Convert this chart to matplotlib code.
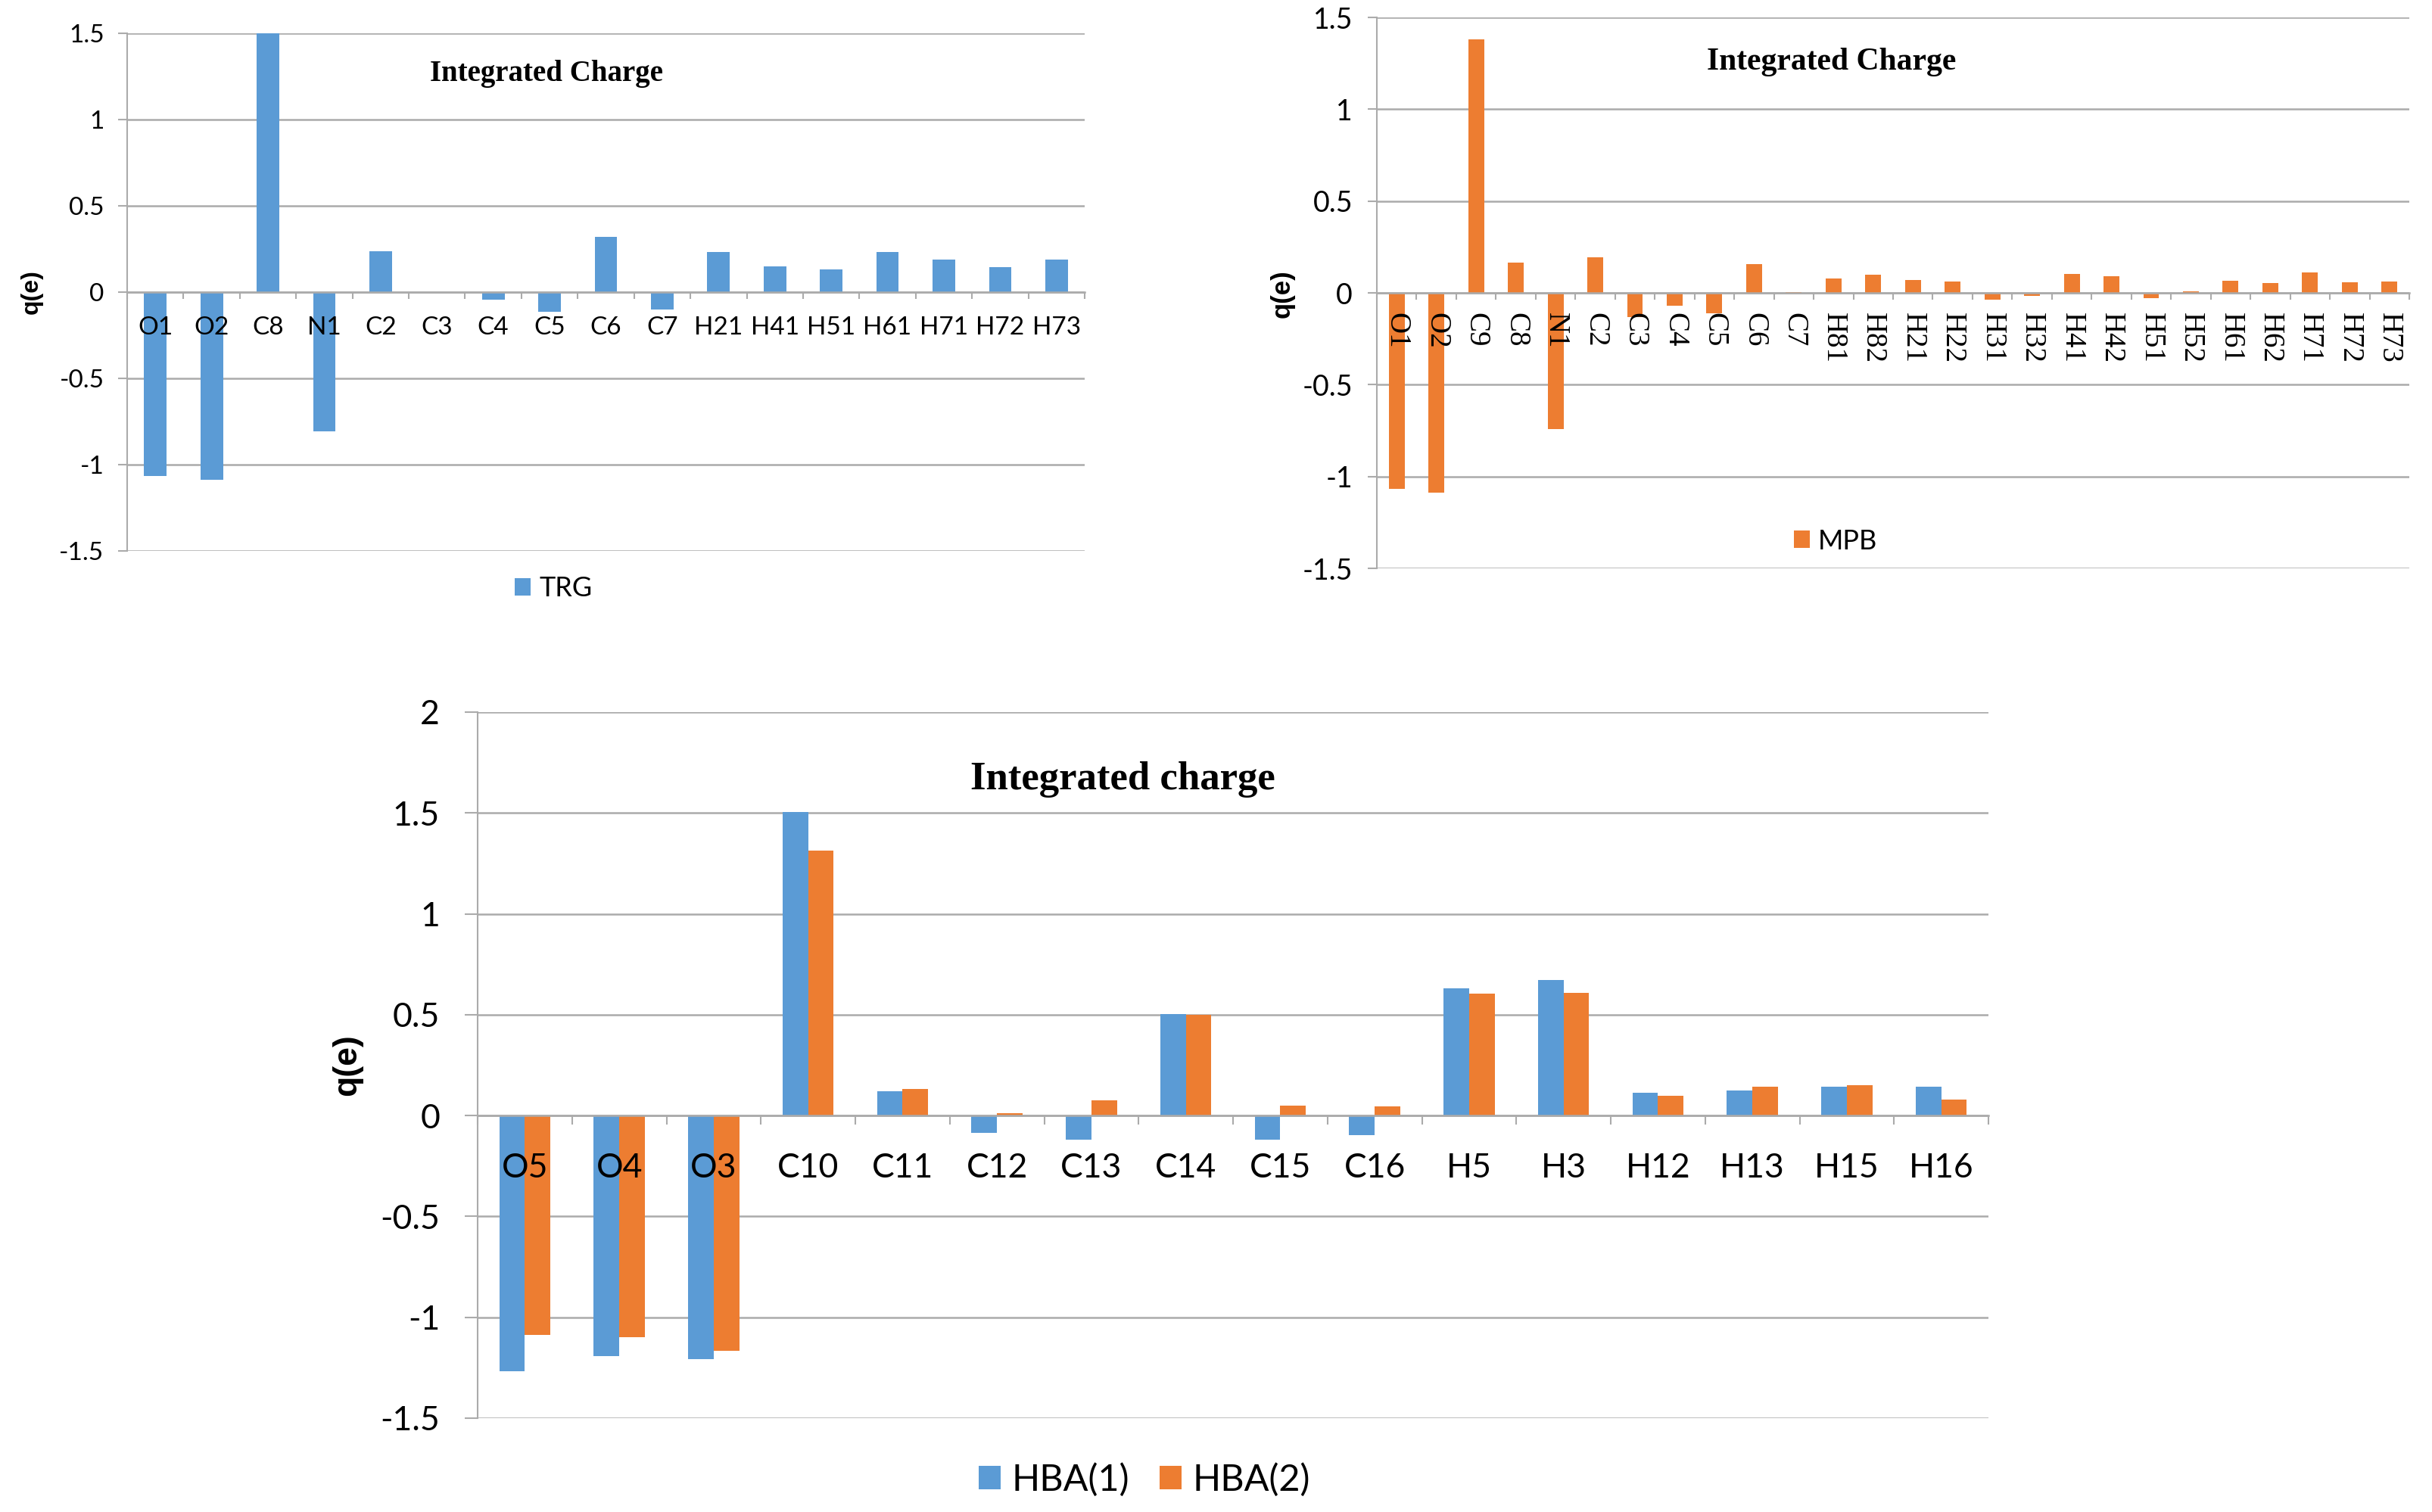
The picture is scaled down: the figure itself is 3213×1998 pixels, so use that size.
import matplotlib
matplotlib.use('Agg')
import matplotlib.pyplot as plt
import numpy as np

# ---- data ----
trg_atoms = ['O1', 'O2', 'C8', 'N1', 'C2', 'C3', 'C4', 'C5', 'C6', 'C7',
             'H21', 'H41', 'H51', 'H61', 'H71', 'H72', 'H73']
trg_q = [-1.065, -1.088, 1.50, -0.806, 0.235, -0.005, -0.046, -0.114, 0.32, -0.103,
         0.233, 0.15, 0.13, 0.233, 0.19, 0.146, 0.19]

mpb_atoms = ['O1', 'O2', 'C9', 'C8', 'N1', 'C2', 'C3', 'C4', 'C5', 'C6', 'C7',
             'H81', 'H82', 'H21', 'H22', 'H31', 'H32', 'H41', 'H42', 'H51', 'H52',
             'H61', 'H62', 'H71', 'H72', 'H73']
mpb_q = [-1.069, -1.087, 1.381, 0.165, -0.74, 0.195, -0.13, -0.07, -0.113, 0.158, 0.005,
         0.078, 0.10, 0.07, 0.06, -0.037, -0.017, 0.104, 0.089, -0.028, 0.01,
         0.065, 0.054, 0.113, 0.056, 0.06]

hba_atoms = ['O5', 'O4', 'O3', 'C10', 'C11', 'C12', 'C13', 'C14', 'C15', 'C16',
             'H5', 'H3', 'H12', 'H13', 'H15', 'H16']
hba1_q = [-1.267, -1.193, -1.206, 1.503, 0.122, -0.085, -0.12, 0.505, -0.12, -0.098,
          0.632, 0.672, 0.114, 0.125, 0.143, 0.143]
hba2_q = [-1.089, -1.10, -1.166, 1.315, 0.13, 0.013, 0.077, 0.50, 0.05, 0.045,
          0.603, 0.608, 0.098, 0.143, 0.149, 0.08]

ticks_small = [-1.5, -1, -0.5, 0, 0.5, 1, 1.5]
ticks_big = [-1.5, -1, -0.5, 0, 0.5, 1, 1.5, 2]

BLUE = '#5B9BD5'
ORANGE = '#ED7D31'
GRID = '#ABABAB'
SANS = 'Lato'
SERIF = 'Liberation Serif'

W, H = 3213, 1998
fig = plt.figure(figsize=(W / 100, H / 100), dpi=100)


def frac(left, top, right, bottom):
    return [left / W, 1 - bottom / H, (right - left) / W, (bottom - top) / H]


def style(ax, n, yticks, ysize, ticklen, ypad, xpad):
    ax.set_xlim(-0.5, n - 0.5)
    ax.set_ylim(yticks[0], yticks[-1])
    for y in yticks:
        ax.axhline(y, color=GRID, lw=1.8, zorder=0)
    ax.set_yticks(yticks)
    ax.set_yticklabels([f'{v:g}' for v in yticks], fontsize=ysize, family=SANS)
    ax.tick_params(axis='y', length=ticklen, width=1.5, color=GRID, pad=ypad)
    for s in ['top', 'right']:
        ax.spines[s].set_visible(False)
    ax.spines['left'].set_color(GRID)
    ax.spines['left'].set_linewidth(1.5)
    ax.spines['bottom'].set_position(('data', 0))
    ax.spines['bottom'].set_color(GRID)
    ax.spines['bottom'].set_linewidth(1.8)
    ax.set_xticks(np.arange(n))
    ax.set_xticks(np.arange(n + 1) - 0.5, minor=True)
    ax.tick_params(axis='x', which='major', length=0, pad=xpad)
    ax.tick_params(axis='x', which='minor', length=ticklen * 0.7, width=1.5,
                   color=GRID, direction='out')
    ax.patch.set_visible(False)


# ---- TRG ----
ax1 = fig.add_axes(frac(168, 44, 1433, 728))
x = np.arange(len(trg_atoms))
ax1.bar(x, trg_q, width=0.4, color=BLUE, label='TRG', zorder=1)
style(ax1, len(trg_atoms), ticks_small, 24, 9, 13, 23)
ax1.set_xticklabels(trg_atoms, fontsize=24, family=SANS)
fig.text(42 / W, 1 - 386 / H, 'q(e)', rotation=90, ha='center', va='center',
         fontsize=23, fontweight='bold', family='Liberation Sans')
fig.text(722 / W, 1 - 97 / H, 'Integrated Charge', ha='center', va='center',
         fontsize=28, fontweight='bold', family=SERIF)
ax1.legend(loc='center', bbox_to_anchor=(731 / W, 1 - 778 / H),
           bbox_transform=fig.transFigure, frameon=False,
           handlelength=0.6, handleheight=0.6, handletextpad=0.3,
           prop={'family': SANS, 'size': 26})

# ---- MPB ----
ax2 = fig.add_axes(frac(1819, 23, 3183, 751))
x = np.arange(len(mpb_atoms))
ax2.bar(x, mpb_q, width=0.4, color=ORANGE, label='MPB', zorder=1)
style(ax2, len(mpb_atoms), ticks_small, 27, 9, 14, 19)
ax2.set_xticklabels(mpb_atoms, fontsize=28, family=SERIF, rotation=270,
                    ha='center', va='top')
fig.text(1694 / W, 1 - 388 / H, 'q(e)', rotation=90, ha='center', va='center',
         fontsize=25, fontweight='bold', family='Liberation Sans')
fig.text(2420 / W, 1 - 82 / H, 'Integrated Charge', ha='center', va='center',
         fontsize=30, fontweight='bold', family=SERIF)
ax2.legend(loc='center', bbox_to_anchor=(2425 / W, 1 - 715 / H),
           bbox_transform=fig.transFigure, frameon=False,
           handlelength=0.6, handleheight=0.6, handletextpad=0.3,
           prop={'family': SANS, 'size': 26})

# ---- HBA ----
ax3 = fig.add_axes(frac(631, 941, 2627, 1874))
x = np.arange(len(hba_atoms))
w = 0.27
ax3.bar(x - w / 2, hba1_q, width=w, color=BLUE, label='HBA(1)', zorder=1)
ax3.bar(x + w / 2, hba2_q, width=w, color=ORANGE, label='HBA(2)', zorder=1)
style(ax3, len(hba_atoms), ticks_big, 32, 12, 24, 35)
ax3.set_xticklabels(hba_atoms, fontsize=32, family=SANS)
fig.text(459 / W, 1 - 1407 / H, 'q(e)', rotation=90, ha='center', va='center',
         fontsize=32, fontweight='bold', family='Liberation Sans')
fig.text(1483 / W, 1 - 1030 / H, 'Integrated charge', ha='center', va='center',
         fontsize=38, fontweight='bold', family=SERIF)
ax3.legend(loc='center', bbox_to_anchor=(1512 / W, 1 - 1955 / H),
           bbox_transform=fig.transFigure, frameon=False, ncol=2,
           handlelength=0.6, handleheight=0.6, handletextpad=0.3, columnspacing=0.8,
           prop={'family': SANS, 'size': 35})

fig.savefig('out.png', dpi=100)
